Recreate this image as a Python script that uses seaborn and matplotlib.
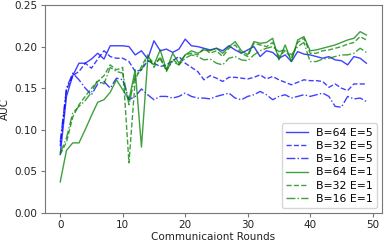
import matplotlib
matplotlib.use("Agg")
import matplotlib.pyplot as plt
import seaborn as sns

rounds = list(range(50))

auc_b64_e5 = [0.070, 0.140, 0.165, 0.180, 0.180, 0.185, 0.192, 0.185, 0.201, 0.201,
              0.201, 0.200, 0.190, 0.195, 0.185, 0.207, 0.195, 0.197, 0.193, 0.197,
              0.209, 0.201, 0.200, 0.198, 0.196, 0.198, 0.195, 0.201, 0.196, 0.192,
              0.196, 0.200, 0.188, 0.195, 0.193, 0.186, 0.190, 0.182, 0.194, 0.191,
              0.190, 0.188, 0.186, 0.188, 0.184, 0.183, 0.178, 0.188, 0.186, 0.180]
auc_b32_e5 = [0.080, 0.148, 0.165, 0.170, 0.180, 0.174, 0.185, 0.195, 0.188, 0.186,
              0.186, 0.182, 0.170, 0.172, 0.183, 0.180, 0.176, 0.178, 0.183, 0.188,
              0.180, 0.175, 0.170, 0.160, 0.165, 0.162, 0.158, 0.163, 0.163, 0.162,
              0.161, 0.163, 0.166, 0.161, 0.164, 0.160, 0.157, 0.154, 0.157, 0.160,
              0.159, 0.159, 0.158, 0.151, 0.155, 0.150, 0.147, 0.155, 0.155, 0.155]
auc_b16_e5 = [0.085, 0.150, 0.168, 0.160, 0.150, 0.142, 0.155, 0.158, 0.150, 0.162,
              0.160, 0.136, 0.140, 0.149, 0.142, 0.136, 0.140, 0.140, 0.138, 0.140,
              0.144, 0.140, 0.138, 0.138, 0.137, 0.140, 0.142, 0.144, 0.138, 0.136,
              0.140, 0.142, 0.146, 0.142, 0.136, 0.140, 0.142, 0.138, 0.140, 0.142,
              0.140, 0.142, 0.144, 0.140, 0.128, 0.127, 0.140, 0.137, 0.138, 0.134]
auc_b64_e1 = [0.037, 0.075, 0.084, 0.084, 0.100, 0.117, 0.133, 0.136, 0.145, 0.160,
              0.148, 0.136, 0.172, 0.079, 0.184, 0.178, 0.196, 0.172, 0.192, 0.180,
              0.190, 0.195, 0.192, 0.196, 0.195, 0.198, 0.192, 0.200, 0.206, 0.195,
              0.190, 0.206, 0.204, 0.205, 0.210, 0.184, 0.202, 0.182, 0.208, 0.212,
              0.195, 0.196, 0.198, 0.200, 0.202, 0.205, 0.208, 0.210, 0.218, 0.214]
auc_b32_e1 = [0.070, 0.085, 0.115, 0.130, 0.140, 0.150, 0.158, 0.165, 0.178, 0.172,
              0.175, 0.060, 0.160, 0.176, 0.190, 0.175, 0.188, 0.170, 0.185, 0.178,
              0.190, 0.192, 0.190, 0.198, 0.192, 0.195, 0.188, 0.198, 0.202, 0.192,
              0.188, 0.204, 0.202, 0.200, 0.205, 0.188, 0.195, 0.186, 0.205, 0.210,
              0.192, 0.192, 0.195, 0.196, 0.198, 0.200, 0.203, 0.205, 0.212, 0.208]
auc_b16_e1 = [0.072, 0.090, 0.120, 0.128, 0.135, 0.145, 0.160, 0.155, 0.175, 0.170,
              0.168, 0.130, 0.165, 0.172, 0.188, 0.180, 0.185, 0.172, 0.182, 0.178,
              0.186, 0.190, 0.188, 0.184, 0.185, 0.180, 0.178, 0.186, 0.188, 0.184,
              0.183, 0.190, 0.195, 0.198, 0.200, 0.194, 0.196, 0.190, 0.200, 0.205,
              0.182, 0.182, 0.185, 0.186, 0.188, 0.190, 0.190, 0.192, 0.198, 0.193]

labels = ['B=64 E=5', 'B=32 E=5', 'B=16 E=5', 'B=64 E=1', 'B=32 E=1', 'B=16 E=1']
series = [auc_b64_e5, auc_b32_e5, auc_b16_e5, auc_b64_e1, auc_b32_e1, auc_b16_e1]
colors = ['blue', 'blue', 'blue', 'green', 'green', 'green']
styles = ['-', '--', '-.', '-', '--', '-.']

fig, ax = plt.subplots(figsize=(3.84, 2.43), dpi=100)
for vals, lab, c, ls in zip(series, labels, colors, styles):
    sns.lineplot(x=rounds, y=vals, color=c, linestyle=ls, alpha=0.75,
                 linewidth=1.0, label=lab, ax=ax)

ax.set_ylim(0, 0.25)
ax.set_yticks([0, 0.05, 0.1, 0.15, 0.2, 0.25])
ax.set_xticks([0, 10, 20, 30, 40, 50])
ax.tick_params(labelsize=7.5, length=3, pad=2.5, color='#777777',
               labelcolor='#222222')
ax.set_xlabel('Communicaiont Rounds', fontsize=7.5, labelpad=1,
              color='#222222')
ax.set_ylabel('AUC', fontsize=7.5, labelpad=3, color='#222222')
ax.legend(loc='lower right', fontsize=7.8, labelspacing=0.3,
          borderpad=0.4, borderaxespad=0.4)
for s in ax.spines.values():
    s.set_color('#777777')

fig.subplots_adjust(left=0.117, right=0.994, bottom=0.125, top=0.979)
fig.savefig('out.png', dpi=100)
